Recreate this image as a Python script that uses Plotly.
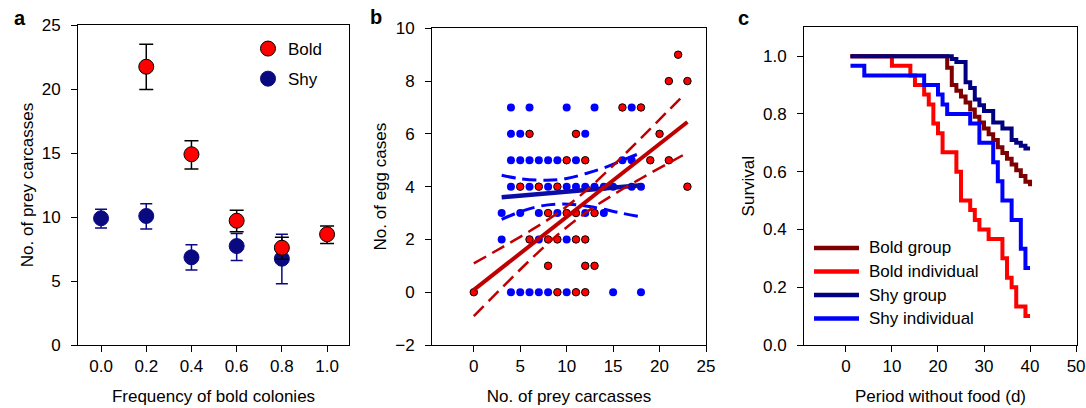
import plotly.graph_objects as go

# ---------------- Panel a data ----------------
freq_bold = [0.2, 0.4, 0.6, 0.8, 1.0]
bold_mean = [21.74, 14.9, 9.71, 7.6, 8.65]
bold_hi = [23.49, 15.96, 10.52, 8.41, 9.3]
bold_lo = [19.97, 13.75, 8.85, 6.69, 7.92]

freq_shy = [0.0, 0.2, 0.4, 0.6, 0.8]
shy_mean = [9.9, 10.08, 6.85, 7.73, 6.74]
shy_hi = [10.6, 11.04, 7.84, 8.72, 8.65]
shy_lo = [9.14, 9.06, 5.86, 6.61, 4.79]

# ---------------- Panel b data ----------------
shy_carc = [4, 6, 10, 13, 17,
            4, 5, 12,
            4, 5, 6, 7, 8, 9, 11, 16, 17,
            4, 6, 8, 10, 11, 12, 13, 14, 15, 17, 18,
            3, 5, 7, 9, 12, 14,
            3, 7, 10,
            4, 5, 6, 7, 8, 10, 15, 18]
shy_eggs = [7, 7, 7, 7, 7,
            6, 6, 6,
            5, 5, 5, 5, 5, 5, 5, 5, 5,
            4, 4, 4, 4, 4, 4, 4, 4, 4, 4, 4,
            3, 3, 3, 3, 3, 3,
            2, 2, 2,
            0, 0, 0, 0, 0, 0, 0, 0]

bold_carc = [22,
             21, 23,
             16, 18,
             6, 11, 20,
             10, 12, 19, 21,
             5, 7, 9, 23,
             8, 10, 11, 13,
             6, 8, 9, 11, 12,
             8, 12, 13,
             0, 9, 11, 12]
bold_eggs = [9,
             8, 8,
             7, 7,
             6, 6, 6,
             5, 5, 5, 5,
             4, 4, 4, 4,
             3, 3, 3, 3,
             2, 2, 2, 2, 2,
             1, 1, 1,
             0, 0, 0, 0]

# fitted lines and 95% bands
bold_fit_x = [0, 23]
bold_fit_y = [0.09, 6.45]
bold_band_x = [0, 3, 6, 9, 12, 15, 18, 21, 22.5]
bold_band_up = [1.09, 1.69, 2.31, 2.99, 3.82, 4.80, 5.84, 6.90, 7.43]
bold_band_lo = [-0.91, 0.16, 1.20, 2.17, 3.00, 3.69, 4.31, 4.90, 5.19]

shy_fit_x = [3, 18]
shy_fit_y = [3.6, 4.05]
shy_up_x = [3, 5, 7.8, 10, 12.1, 14.3, 16.5, 18]
shy_up_y = [4.43, 4.30, 4.245, 4.31, 4.5, 4.75, 5.07, 5.28]
shy_lo_x = [3, 5, 7.1, 9.3, 11.4, 13.6, 15.7, 18]
shy_lo_y = [2.76, 3.05, 3.26, 3.34, 3.30, 3.17, 3.01, 2.86]

# ---------------- Panel c data ----------------
bg_days = [1, 22, 23, 24, 25, 26, 27, 28, 29, 30, 31, 32, 33, 34, 35, 36, 37, 38, 39, 40]
bg_surv = [1.0, 0.96, 0.90, 0.88, 0.86, 0.84, 0.815, 0.79, 0.77, 0.75, 0.73, 0.71,
           0.685, 0.665, 0.645, 0.625, 0.605, 0.585, 0.565, 0.55]

bi_days = [1, 10, 14, 15, 17, 18, 19, 20, 21, 24, 25, 27, 28, 29, 31, 34, 35, 36, 37, 39, 40]
bi_surv = [1.0, 0.967, 0.933, 0.90, 0.867, 0.833, 0.767, 0.733, 0.667, 0.60, 0.50,
           0.467, 0.433, 0.40, 0.367, 0.30, 0.233, 0.20, 0.133, 0.10, 0.10]

sg_days = [1, 23, 24, 26, 27, 28, 29, 30, 32, 34, 36, 37, 38, 39, 40]
sg_surv = [1.0, 0.99, 0.98, 0.91, 0.89, 0.85, 0.83, 0.81, 0.77, 0.75, 0.71, 0.70, 0.69, 0.68, 0.68]

si_days = [1, 4, 17, 20, 21, 22, 27, 29, 32, 33, 34, 36, 38, 39, 40]
si_surv = [0.967, 0.933, 0.90, 0.867, 0.833, 0.80, 0.767, 0.70, 0.633, 0.567, 0.50,
           0.433, 0.333, 0.267, 0.267]

surv_names = ["Bold group", "Bold individual", "Shy group", "Shy individual"]
surv_colors = ["#7f0000", "#ff0000", "#000080", "#0000ff"]

FONT = "Liberation Sans, Arial, Helvetica, sans-serif"
FS = 17
W, H = 1086, 408

RED = "#ff0000"
NAVY = "#0a0a80"
BLUE = "#0000ff"
DARKRED = "#c00000"

fig = go.Figure()

# ---- Panel a ----
fig.add_trace(go.Scatter(
    x=freq_shy, y=shy_mean, mode="markers", name="Shy", legendrank=2,
    legendgroup="shy", legend="legend",
    marker=dict(size=15, color=NAVY, line=dict(color=NAVY, width=1)),
    error_y=dict(type="data", symmetric=False,
                 array=[h - m for h, m in zip(shy_hi, shy_mean)],
                 arrayminus=[m - l for m, l in zip(shy_mean, shy_lo)],
                 color=NAVY, thickness=1.5, width=6),
    xaxis="x", yaxis="y"))
fig.add_trace(go.Scatter(
    x=freq_bold, y=bold_mean, mode="markers", name="Bold", legendrank=1,
    legendgroup="bold", legend="legend",
    marker=dict(size=15, color=RED, line=dict(color="black", width=1)),
    error_y=dict(type="data", symmetric=False,
                 array=[h - m for h, m in zip(bold_hi, bold_mean)],
                 arrayminus=[m - l for m, l in zip(bold_mean, bold_lo)],
                 color="black", thickness=1.5, width=7),
    xaxis="x", yaxis="y"))

# ---- Panel b ----
fig.add_trace(go.Scatter(x=shy_carc, y=shy_eggs, mode="markers", showlegend=False,
                         marker=dict(size=8, color=BLUE, line=dict(width=0)),
                         xaxis="x2", yaxis="y2"))
fig.add_trace(go.Scatter(x=bold_carc, y=bold_eggs, mode="markers", showlegend=False,
                         marker=dict(size=7.5, color=RED, line=dict(color="black", width=1)),
                         xaxis="x2", yaxis="y2"))
fig.add_trace(go.Scatter(x=shy_fit_x, y=shy_fit_y, mode="lines", showlegend=False,
                         line=dict(color="#0c0ca8", width=4.5), xaxis="x2", yaxis="y2"))
fig.add_trace(go.Scatter(x=shy_up_x, y=shy_up_y, mode="lines", showlegend=False,
                         line=dict(color=BLUE, width=3, dash="14px,7px", shape="spline"),
                         xaxis="x2", yaxis="y2"))
fig.add_trace(go.Scatter(x=shy_lo_x, y=shy_lo_y, mode="lines", showlegend=False,
                         line=dict(color=BLUE, width=3, dash="14px,7px", shape="spline"),
                         xaxis="x2", yaxis="y2"))
fig.add_trace(go.Scatter(x=bold_fit_x, y=bold_fit_y, mode="lines", showlegend=False,
                         line=dict(color=DARKRED, width=4), xaxis="x2", yaxis="y2"))
fig.add_trace(go.Scatter(x=bold_band_x, y=bold_band_up, mode="lines", showlegend=False,
                         line=dict(color=DARKRED, width=2.5, dash="14px,7px", shape="spline"),
                         xaxis="x2", yaxis="y2"))
fig.add_trace(go.Scatter(x=bold_band_x, y=bold_band_lo, mode="lines", showlegend=False,
                         line=dict(color=DARKRED, width=2.5, dash="14px,7px", shape="spline"),
                         xaxis="x2", yaxis="y2"))

# ---- Panel c ----
surv_series = {
    "Bold individual": (bi_days, bi_surv),
    "Bold group": (bg_days, bg_surv),
    "Shy individual": (si_days, si_surv),
    "Shy group": (sg_days, sg_surv),
}
for nm in ["Bold individual", "Bold group", "Shy individual", "Shy group"]:
    dx, dy = surv_series[nm]
    col = surv_colors[surv_names.index(nm)]
    fig.add_trace(go.Scatter(x=dx, y=dy, mode="lines", name=nm, showlegend=False,
                             line=dict(color=col, width=4, shape="hv"),
                             xaxis="x3", yaxis="y3"))

# legend of panel c drawn as line samples + text
shapes = []
annotations = []
leg_y = [248, 271.5, 295, 318.5]
for nm, col, yy in zip(surv_names, surv_colors, leg_y):
    shapes.append(dict(type="line", xref="paper", yref="paper",
                       x0=814 / W, x1=859 / W, y0=1 - yy / H, y1=1 - yy / H,
                       line=dict(color=col, width=4.5)))
    annotations.append(dict(text=nm, x=867 / W, y=1 - yy / H, xref="paper", yref="paper",
                            showarrow=False, xanchor="left", yanchor="middle",
                            font=dict(family=FONT, size=FS, color="black")))


def ax(**kw):
    base = dict(showline=True, linecolor="black", linewidth=1, mirror=True,
                ticks="outside", ticklen=6, tickcolor="black", tickwidth=1,
                showgrid=False, zeroline=False, automargin=False,
                tickfont=dict(family=FONT, size=FS, color="black"))
    base.update(kw)
    return base


def title(t, standoff):
    return dict(text=t, font=dict(family=FONT, size=FS, color="black"), standoff=standoff)


for lab, lx, ly in [("a", 20, 18), ("b", 376, 17), ("c", 743, 18)]:
    annotations.append(dict(text="<b>%s</b>" % lab, x=lx / W, y=1 - ly / H,
                            xref="paper", yref="paper", showarrow=False,
                            font=dict(family=FONT, size=20, color="black"),
                            xanchor="center", yanchor="middle"))

ybot = 63 / H
fig.update_layout(
    width=W, height=H,
    margin=dict(l=0, r=0, t=0, b=0, autoexpand=False),
    paper_bgcolor="white", plot_bgcolor="white",
    font=dict(family=FONT, size=FS, color="black"),
    xaxis=ax(domain=[78 / W, 349 / W], range=[-0.102, 1.097],
             tickvals=[0, 0.2, 0.4, 0.6, 0.8, 1.0], tickformat=".1f",
             title=title("Frequency of bold colonies", 14), anchor="y"),
    yaxis=ax(domain=[ybot, 1 - 25 / H], range=[0, 25], dtick=5, ticklabelstandoff=7,
             title=title("No. of prey carcasses", 3), anchor="x"),
    xaxis2=ax(domain=[432 / W, 706 / W], range=[-4.5, 25], dtick=5,
              title=title("No. of prey carcasses", 14), anchor="y2"),
    yaxis2=ax(domain=[ybot, 1 - 28.3 / H], range=[-2, 10], dtick=2, ticklabelstandoff=7,
              title=title("No. of egg cases", 4), anchor="x2"),
    xaxis3=ax(domain=[804 / W, 1077 / W], range=[-9.1, 50.2], dtick=10,
              title=title("Period without food (d)", 14), anchor="y3"),
    yaxis3=ax(domain=[ybot, 1 - 27.3 / H], range=[0, 1.1], ticklabelstandoff=7,
              tickvals=[0, 0.2, 0.4, 0.6, 0.8, 1.0], tickformat=".1f",
              title=title("Survival", 3), anchor="x3"),
    legend=dict(x=248 / W, y=1 - 31 / H, xanchor="left", yanchor="top",
                bgcolor="rgba(0,0,0,0)", font=dict(family=FONT, size=FS),
                tracegroupgap=5, itemsizing="trace"),
    shapes=shapes,
    annotations=annotations,
)

fig.write_html("out.html", config={"displayModeBar": False},
               post_script="document.body.style.margin='0px';"
                           "document.body.style.overflow='hidden';")
